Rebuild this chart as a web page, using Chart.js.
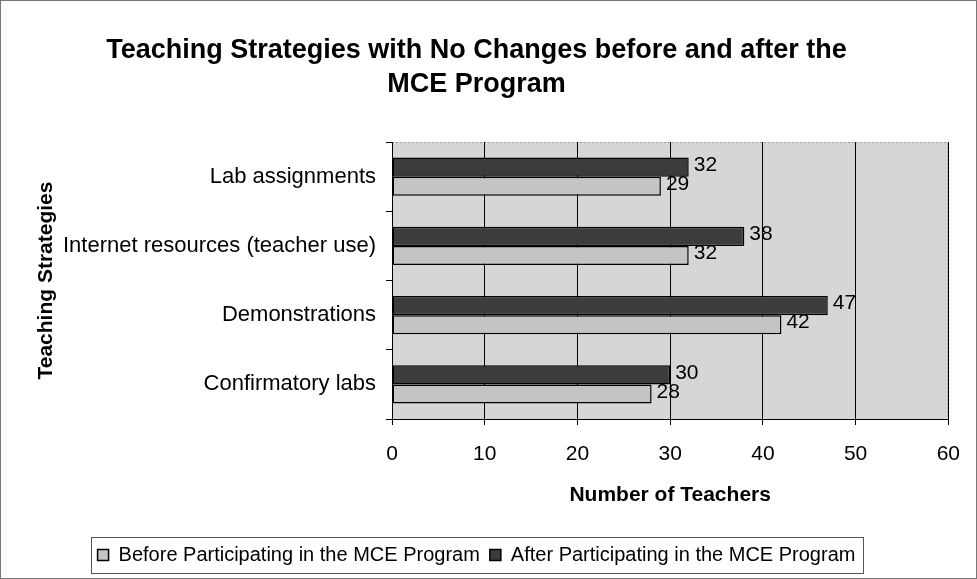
<!DOCTYPE html>
<html>
<head>
<meta charset="utf-8">
<script src="https://cdn.jsdelivr.net/npm/chart.js@4"></script>
<style>
  html, body { margin: 0; padding: 0; background: #fff; }
  #wrap { width: 977px; height: 579px; }
</style>
</head>
<body>
<div id="wrap"><canvas id="chart"></canvas></div>
<script>
const strategies = ['Lab assignments', 'Internet resources (teacher use)', 'Demonstrations', 'Confirmatory labs'];
const beforeValues = [29, 32, 42, 28];
const afterValues = [32, 38, 47, 30];
const xTicks = [0, 10, 20, 30, 40, 50, 60];

const FONT = '"Liberation Sans", Arial, sans-serif';

// gray background behind the plot + outer border
const backdrop = {
  id: 'backdrop',
  beforeDraw(chart) {
    const { ctx, chartArea: a } = chart;
    ctx.save();
    ctx.fillStyle = '#fff';
    ctx.fillRect(0, 0, chart.width, chart.height);
    ctx.fillStyle = '#d6d6d6';
    ctx.fillRect(a.left, a.top, a.right - a.left, a.bottom - a.top);
    ctx.strokeStyle = '#9a9a9a';
    ctx.setLineDash([2, 2]);
    ctx.lineWidth = 1;
    ctx.beginPath();
    ctx.moveTo(a.left, a.top + 0.5);
    ctx.lineTo(a.right - 0.5, a.top + 0.5);
    ctx.lineTo(a.right - 0.5, a.bottom);
    ctx.stroke();
    ctx.setLineDash([]);
    ctx.strokeStyle = '#777';
    ctx.strokeRect(0.5, 0.5, chart.width - 1, chart.height - 1);
    ctx.restore();
  }
};

// value labels at the end of each bar
const valueLabels = {
  id: 'valueLabels',
  afterDatasetsDraw(chart) {
    const { ctx } = chart;
    ctx.save();
    ctx.font = '21px ' + FONT;
    ctx.fillStyle = '#000';
    ctx.textBaseline = 'middle';
    ctx.textAlign = 'left';
    chart.data.datasets.forEach((ds, i) => {
      chart.getDatasetMeta(i).data.forEach((bar, j) => {
        ctx.fillText(ds.data[j], bar.x + 5, bar.y - 2);
      });
    });
    ctx.restore();
  }
};

// frame round the legend
const legendFrame = {
  id: 'legendFrame',
  afterDraw(chart) {
    const boxes = chart.legend.legendHitBoxes;
    if (!boxes || !boxes.length) return;
    const left = Math.min(...boxes.map(b => b.left)) - 7;
    const right = Math.max(...boxes.map(b => b.left + b.width)) + 7;
    const top = boxes[0].top - 8;
    const bottom = boxes[0].top + boxes[0].height + 8;
    const { ctx } = chart;
    ctx.save();
    ctx.strokeStyle = '#555';
    ctx.lineWidth = 1;
    ctx.strokeRect(Math.round(left) + 0.5, Math.round(top) + 0.5, Math.round(right - left), Math.round(bottom - top));
    ctx.restore();
  }
};

new Chart(document.getElementById('chart'), {
  type: 'bar',
  data: {
    labels: strategies,
    datasets: [{
      label: 'After Participating in the MCE Program',
      data: afterValues,
      backgroundColor: '#3c3c3c',
      borderColor: '#000',
      borderWidth: 1.5,
      borderSkipped: false,
      barPercentage: 1,
      categoryPercentage: 0.55
    }, {
      label: 'Before Participating in the MCE Program',
      data: beforeValues,
      backgroundColor: '#c4c4c4',
      borderColor: '#000',
      borderWidth: 1.5,
      borderSkipped: false,
      barPercentage: 1,
      categoryPercentage: 0.55
    }]
  },
  options: {
    indexAxis: 'y',
    responsive: true,
    maintainAspectRatio: false,
    animation: false,
    layout: { padding: { left: 0, right: 24, top: 0, bottom: 4 } },
    plugins: {
      tooltip: { enabled: false },
      title: {
        display: true,
        text: ['Teaching Strategies with No Changes before and after the', 'MCE Program'],
        color: '#000',
        font: { family: FONT, size: 27, weight: 'bold', lineHeight: 1.26 },
        padding: { top: 34, bottom: 40 }
      },
      legend: {
        position: 'bottom',
        reverse: true,
        labels: {
          color: '#000',
          font: { family: FONT, size: 20 },
          boxWidth: 11,
          boxHeight: 11,
          padding: 10
        }
      }
    },
    scales: {
      x: {
        min: 0,
        max: 60,
        afterBuildTicks: (scale) => { scale.ticks = xTicks.map(v => ({ value: v })); },
        afterFit: (scale) => { scale.height = 116; },
        grid: { color: '#000', lineWidth: 1, tickLength: 6, drawTicks: true },
        border: { color: '#000', width: 1 },
        ticks: { color: '#000', padding: 17, font: { family: FONT, size: 21 } },
        title: {
          display: true,
          text: 'Number of Teachers',
          color: '#000',
          font: { family: FONT, size: 21, weight: 'bold' },
          padding: { top: 4, bottom: 27 }
        }
      },
      y: {
        afterFit: (scale) => { scale.width = 392; },
        grid: { drawOnChartArea: false, color: '#000', tickLength: 6 },
        border: { color: '#000', width: 1 },
        ticks: { color: '#000', padding: 10, font: { family: FONT, size: 22 } },
        title: {
          display: true,
          text: 'Teaching Strategies',
          color: '#000',
          font: { family: FONT, size: 21, weight: 'bold' },
          padding: { top: 34, bottom: 0 }
        }
      }
    }
  },
  plugins: [backdrop, valueLabels, legendFrame]
});
</script>
</body>
</html>
